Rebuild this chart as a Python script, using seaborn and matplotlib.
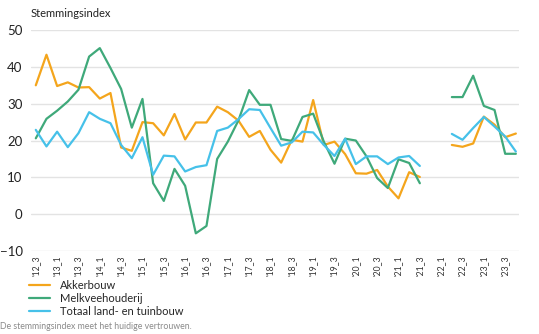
import numpy as np
import pandas as pd
import matplotlib
matplotlib.use("Agg")
import matplotlib.pyplot as plt
from matplotlib.lines import Line2D
import seaborn as sns

nan = np.nan

# Survey rounds (year_round), one per quarter
periods = [
    "'12_3", "'12_4", "'13_1", "'13_2", "'13_3", "'13_4", "'14_1", "'14_2",
    "'14_3", "'14_4", "'15_1", "'15_2", "'15_3", "'15_4", "'16_1", "'16_2",
    "'16_3", "'16_4", "'17_1", "'17_2", "'17_3", "'17_4", "'18_1", "'18_2",
    "'18_3", "'18_4", "'19_1", "'19_2", "'19_3", "'19_4", "'20_1", "'20_2",
    "'20_3", "'20_4", "'21_1", "'21_2", "'21_3", "'21_4", "'22_1", "'22_2",
    "'22_3", "'22_4", "'23_1", "'23_2", "'23_3", "'23_4",
]

akkerbouw = [
    35, 43.3, 34.8, 35.8, 34.4, 34.5, 31.4, 32.9, 18.1, 17.2,
    25, 24.7, 21.4, 27.2, 20.3, 24.9, 24.9, 29.2, 27.7, 25.4,
    21, 22.6, 17.5, 14, 20.2, 19.7, 31, 18.8, 19.7, 16.3,
    11.1, 11, 12, 7.5, 4.3, 11.4, 10.1, nan, nan,
    18.8, 18.3, 19.2, 26.5, 24.3, 20.9, 21.9,
]
melkveehouderij = [
    20.6, 25.9, 28.1, 30.6, 33.8, 42.8, 45.1, 39.7, 34, 23.5,
    31.3, 8.4, 3.6, 12.3, 7.7, -5.2, -3.2, 15, 19.7, 25.5,
    33.7, 29.7, 29.7, 20.4, 19.9, 26.4, 27.3, 19.7, 13.7, 20.5,
    20, 15.7, 9.8, 7.1, 14.9, 13.9, 8.4, nan, nan,
    31.8, 31.8, 37.6, 29.4, 28.3, 16.4, 16.4,
]
totaal = [
    22.9, 18.4, 22.4, 18.2, 22, 27.7, 25.9, 24.7, 18.8, 15.2,
    20.9, 10.7, 15.9, 15.7, 11.6, 12.8, 13.3, 22.6, 23.5, 25.8,
    28.5, 28.3, 23.4, 18.6, 19.5, 22.4, 22.2, 18.8, 15.8, 20.5,
    13.6, 15.7, 15.7, 13.6, 15.4, 15.8, 13.1, nan, nan,
    21.8, 20.2, 23.4, 26.4, 23.8, 21.1, 17,
]

series_names = ["Akkerbouw", "Melkveehouderij", "Totaal land- en tuinbouw"]
colors = ["#F4A51C", "#3FA97A", "#46C1E9"]

# Long-form table; a segment id splits each line where rounds are missing
frames = []
for name, vals in zip(series_names, [akkerbouw, melkveehouderij, totaal]):
    v = np.asarray(vals, dtype=float)
    seg = np.cumsum(np.isnan(v))
    frames.append(pd.DataFrame({"pos": np.arange(len(periods)), "index": v,
                                "serie": name, "seg": seg}))
df = pd.concat(frames).dropna()

sns.set_theme(style="white")
plt.rcParams["font.family"] = ["Lato", "DejaVu Sans"]

fig = plt.figure(figsize=(5.39, 3.34), dpi=100)
ax = fig.add_axes([0.0575, 0.2485, 0.9055, 0.6615])

sns.lineplot(data=df, x="pos", y="index", hue="serie", units="seg",
             estimator=None, palette=dict(zip(series_names, colors)),
             hue_order=series_names, linewidth=1.6, legend=False, ax=ax)

ax.set_ylim(-10, 50)
ax.set_xlim(-0.45, 45.3)
ax.set_yticks(range(-10, 51, 10))
ax.yaxis.grid(True, color="#E3E3E3", linewidth=1.0)
ax.xaxis.grid(False)
for s in ax.spines.values():
    s.set_visible(False)

ax.set_xticks(range(0, len(periods), 2))
ax.set_xticklabels(periods[::2], rotation=90, fontsize=6.2, color="#333333")
ax.tick_params(axis="x", pad=3, length=0)
ax.tick_params(axis="y", labelsize=9.5, colors="#222222", pad=6, length=0)
ax.set_xlabel("")
ax.set_ylabel("")

fig.text(0.0575, 0.96, "Stemmingsindex", fontsize=8, color="#222222",
         ha="left", va="center")

handles = [Line2D([], [], color=c, linewidth=1.6) for c in colors]
fig.legend(handles, series_names, loc="upper left",
           bbox_to_anchor=(0.053, 0.162), frameon=False, fontsize=8,
           handlelength=1.9, handletextpad=0.9, labelspacing=0.2,
           borderaxespad=0, borderpad=0)

fig.text(0.0, 0.022, "De stemmingsindex meet het huidige vertrouwen.",
         fontsize=6.3, color="#8A8A8A", ha="left", va="center")

fig.savefig("out.png", dpi=100)
